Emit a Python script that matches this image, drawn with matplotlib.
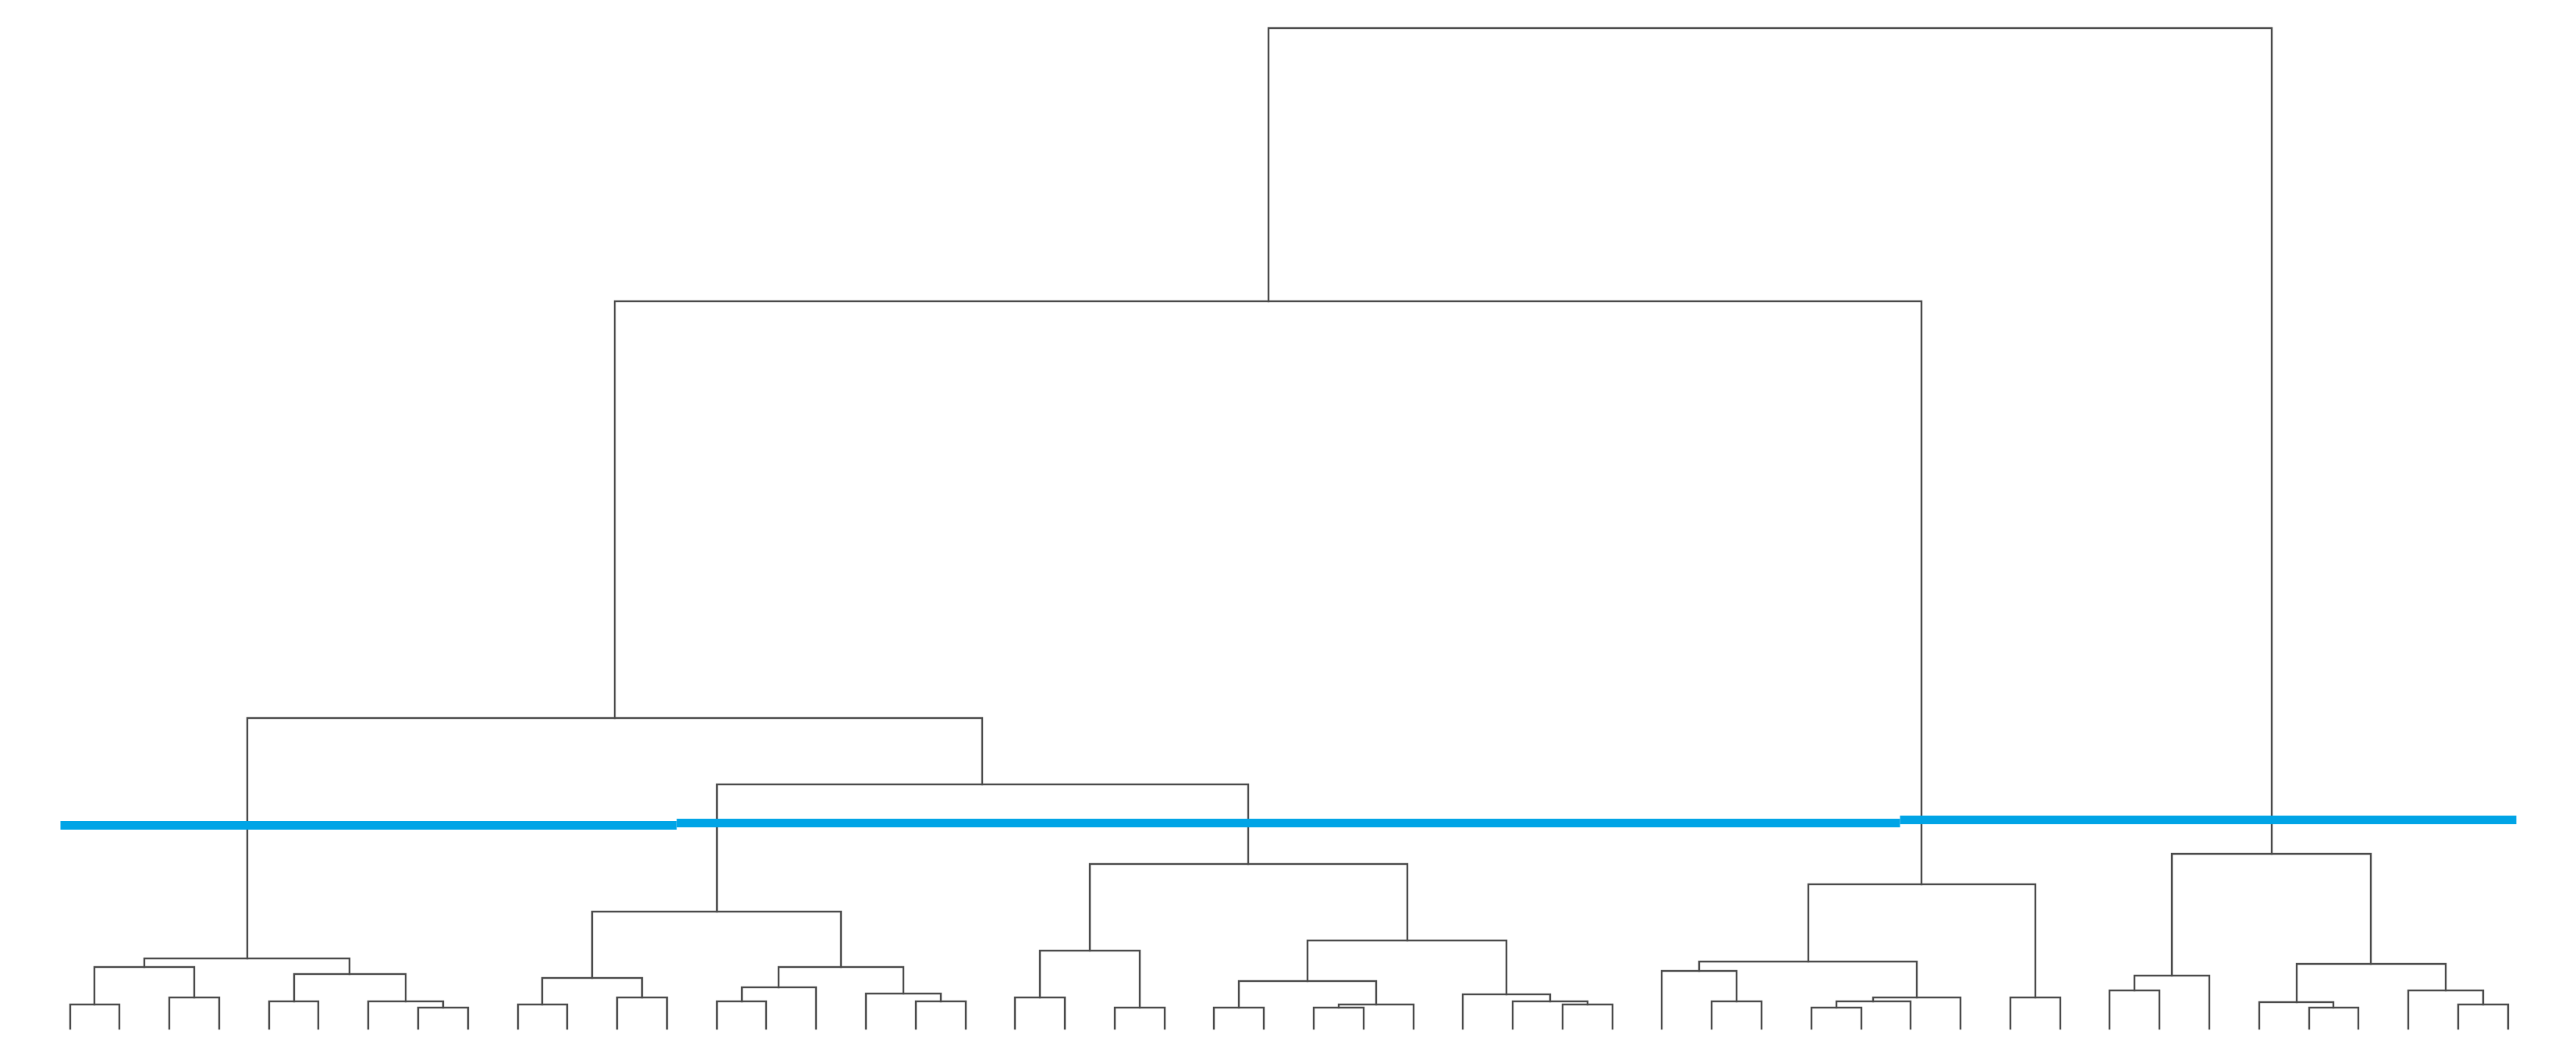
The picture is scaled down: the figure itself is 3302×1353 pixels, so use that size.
import matplotlib
matplotlib.use("Agg")
import matplotlib.pyplot as plt

# leaf count and merge table (name, left child, right child, height)
n_leaves = 50
merges = [
    ("a1", 0, 1, 0.313),
    ("a2", 2, 3, 0.397),
    ("a3", "a1", "a2", 0.787),
    ("a4", 4, 5, 0.347),
    ("a5", 7, 8, 0.273),
    ("a6", 6, "a5", 0.347),
    ("a7", "a4", "a6", 0.697),
    ("A", "a3", "a7", 0.903),
    ("b1", 9, 10, 0.313),
    ("b2", 11, 12, 0.397),
    ("b3", "b1", "b2", 0.647),
    ("b4", 13, 14, 0.347),
    ("b5", "b4", 15, 0.530),
    ("b6", 17, 18, 0.347),
    ("b7", 16, "b6", 0.447),
    ("b8", "b5", "b7", 0.787),
    ("B1", "b3", "b8", 1.497),
    ("c1", 19, 20, 0.397),
    ("c2", 21, 22, 0.273),
    ("C1", "c1", "c2", 0.997),
    ("c3", 23, 24, 0.273),
    ("c4", 25, 26, 0.273),
    ("c5", "c4", 27, 0.313),
    ("c6", "c3", "c5", 0.607),
    ("c7", 30, 31, 0.313),
    ("c8", 29, "c7", 0.347),
    ("c9", 28, "c8", 0.445),
    ("C2", "c6", "c9", 1.130),
    ("C", "C1", "C2", 2.110),
    ("B", "B1", "C", 3.127),
    ("AB", "A", "B", 3.980),
    ("d1", 33, 34, 0.347),
    ("d2", 32, "d1", 0.737),
    ("d3", 35, 36, 0.273),
    ("d4", "d3", 37, 0.347),
    ("d5", "d4", 38, 0.397),
    ("D", "d2", "d5", 0.863),
    ("d6", 39, 40, 0.397),
    ("D2", "D", "d6", 1.847),
    ("ABD", "AB", "D2", 9.323),
    ("e1", 41, 42, 0.490),
    ("e2", "e1", 43, 0.680),
    ("e3", 45, 46, 0.273),
    ("e4", 44, "e3", 0.340),
    ("e5", 48, 49, 0.307),
    ("e6", 47, "e5", 0.490),
    ("e7", "e4", "e6", 0.830),
    ("E", "e2", "e7", 2.237),
    ("root", "ABD", "E", 12.820),
]

# cut threshold drawn as a stepped line: (x start, x end, height)
cut_x0 = [3.1, 126.85, 372.8]
cut_x1 = [126.85, 372.8, 496.6]
cut_h = [2.608, 2.642, 2.685]


def main():
    fig = plt.figure(figsize=(33.02, 13.53), dpi=100)
    ax = fig.add_axes([0, 0, 1, 1])

    # leaf positions as in scipy's dendrogram (5, 15, 25, ...)
    pos = {i: (5 + 10 * i, 0.0) for i in range(n_leaves)}
    for name, left, right, h in merges:
        xl, hl = pos[left]
        xr, hr = pos[right]
        ax.plot([xl, xl, xr, xr], [hl, h, h, hr],
                color="#4a4a4a", lw=1.7, solid_joinstyle="miter")
        pos[name] = ((xl + xr) / 2, h)

    for x0, x1, h in zip(cut_x0, cut_x1, cut_h):
        ax.plot([x0, x1], [h, h], color="#00a4e6", lw=7.9,
                solid_capstyle="butt")

    ax.set_xlim(-9.05, 508.7)
    ax.set_ylim(-0.35, 13.18)
    ax.axis("off")
    fig.savefig("out.png", dpi=100, facecolor="white")
    plt.close(fig)


if __name__ == "__main__":
    main()
